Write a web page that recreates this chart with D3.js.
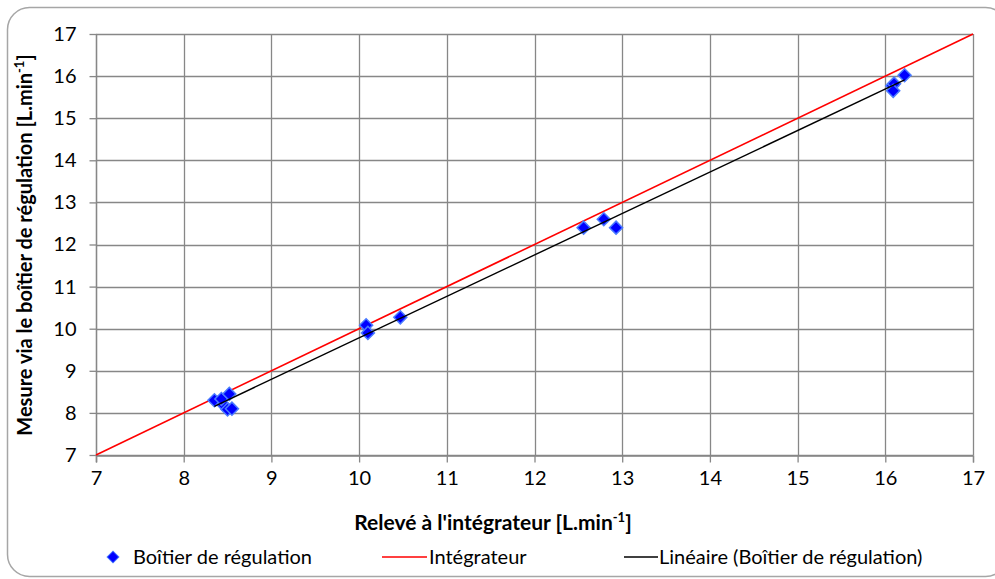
<!DOCTYPE html>
<html><head><meta charset="utf-8">
<script src="https://cdn.jsdelivr.net/npm/d3@7"></script>
<style>body{margin:0;background:#fff}svg{display:block}text{font-family:Lato,"Open Sans",sans-serif;fill:#000}</style>
</head><body><svg id="c" width="995" height="579"></svg>
<script>
const xTicks = [7,8,9,10,11,12,13,14,15,16,17];
const yTicks = [7,8,9,10,11,12,13,14,15,16,17];
const boitierX = [8.35,8.45,8.5,8.55,8.43,8.52,10.08,10.1,10.47,12.56,12.79,12.93,16.08,16.1,16.09,16.22];
const boitierY = [8.3,8.2,8.08,8.1,8.33,8.45,10.08,9.9,10.27,12.4,12.6,12.4,15.77,15.82,15.65,16.02];
const integrateurX = [7,17];
const integrateurY = [7,17];

const svg = d3.select("#c");
svg.append("rect").attr("x",7.5).attr("y",7.5).attr("width",1000).attr("height",569)
  .attr("rx",22).attr("fill","#fff").attr("stroke","#a6a6a6").attr("stroke-width",1.5);

const x = d3.scaleLinear().domain([7,17]).range([96,973]);
const y = d3.scaleLinear().domain([7,17]).range([455,34]);
const g = svg.append("g");

// grid
g.selectAll(".gx").data(xTicks).join("line").attr("x1",d=>Math.round(x(d))+0.5).attr("x2",d=>Math.round(x(d))+0.5)
  .attr("y1",y(17)).attr("y2",y(7)).attr("stroke","#878787").attr("stroke-width",1.3);
g.selectAll(".gy").data(yTicks).join("line").attr("y1",d=>Math.round(y(d))+0.5).attr("y2",d=>Math.round(y(d))+0.5)
  .attr("x1",x(7)).attr("x2",x(17)).attr("stroke","#878787").attr("stroke-width",1.3);

// axes
const xa = g.append("g").attr("transform",`translate(0,${Math.round(y(7))+0.5})`)
  .call(d3.axisBottom(x).tickValues(xTicks).tickSize(7).tickPadding(8).tickFormat(d3.format("d")));
const ya = g.append("g").attr("transform",`translate(${Math.round(x(7))+0.5},0)`)
  .call(d3.axisLeft(y).tickValues(yTicks).tickSize(7).tickPadding(13).tickFormat(d3.format("d")));
[xa,ya].forEach(a=>{a.selectAll("path,line").attr("stroke","#878787").attr("stroke-width",1.3);
  a.selectAll("text").attr("font-size",20).attr("font-family","Lato,sans-serif").attr("fill","#000");});
ya.select(".domain").remove();
g.append("line").attr("x1",Math.round(x(7))+0.5).attr("x2",Math.round(x(7))+0.5).attr("y1",y(17)).attr("y2",y(7)+7).attr("stroke","#878787").attr("stroke-width",1.3);

// integrateur line
const line = d3.line().x(d=>x(d[0])).y(d=>y(d[1]));
g.append("path").datum(integrateurX.map((v,i)=>[v,integrateurY[i]])).attr("d",line)
  .attr("fill","none").attr("stroke","#ff0000").attr("stroke-width",1.6);

// linear trend
const n = boitierX.length;
const mx = d3.mean(boitierX), my = d3.mean(boitierY);
let sxy=0,sxx=0; for(let i=0;i<n;i++){sxy+=(boitierX[i]-mx)*(boitierY[i]-my);sxx+=(boitierX[i]-mx)**2;}
const b = sxy/sxx, a0 = my-b*mx;
const xmin=d3.min(boitierX), xmax=d3.max(boitierX);

// points
const pts = boitierX.map((v,i)=>[v,boitierY[i]]);
g.selectAll(".pt").data(pts).join("path").attr("d",d3.symbol(d3.symbolSquare,85))
  .attr("transform",d=>`translate(${x(d[0])},${y(d[1])}) rotate(45)`)
  .attr("fill","#0000ff").attr("stroke","#4a7bff").attr("stroke-width",1.5);

g.append("path").datum([[xmin,a0+b*xmin],[xmax,a0+b*xmax]]).attr("d",line)
  .attr("fill","none").attr("stroke","#000").attr("stroke-width",1.4);

// titles
const xt = svg.append("text").attr("x",493).attr("y",530).attr("text-anchor","middle").attr("font-size",21).attr("font-weight","bold");
xt.append("tspan").text("Relevé à l'intégrateur [L.min");
xt.append("tspan").attr("font-size",13).attr("dy",-8).text("-1");
xt.append("tspan").attr("dy",8).text("]");
const yt = svg.append("text").attr("transform","translate(32,245) rotate(-90)").attr("text-anchor","middle").attr("font-size",20).attr("font-weight","bold");
yt.append("tspan").text("Mesure via le boîtier de régulation [L.min");
yt.append("tspan").attr("font-size",13).attr("dy",-8).text("-1");
yt.append("tspan").attr("dy",8).text("]");

// legend
const leg = svg.append("g");
leg.append("path").attr("d",d3.symbol(d3.symbolSquare,70)).attr("transform","translate(113,557) rotate(45)")
  .attr("fill","#0000ff").attr("stroke","#4a7bff").attr("stroke-width",1);
leg.append("text").attr("x",133).attr("y",564).attr("font-size",20).text("Boîtier de régulation");
leg.append("line").attr("x1",382).attr("x2",427).attr("y1",557).attr("y2",557).attr("stroke","#ff0000").attr("stroke-width",1.6);
leg.append("text").attr("x",429).attr("y",564).attr("font-size",20).text("Intégrateur");
leg.append("line").attr("x1",624).attr("x2",658).attr("y1",557).attr("y2",557).attr("stroke","#000").attr("stroke-width",1.6);
leg.append("text").attr("x",659).attr("y",564).attr("font-size",20).text("Linéaire (Boîtier de régulation)");
</script></body></html>
